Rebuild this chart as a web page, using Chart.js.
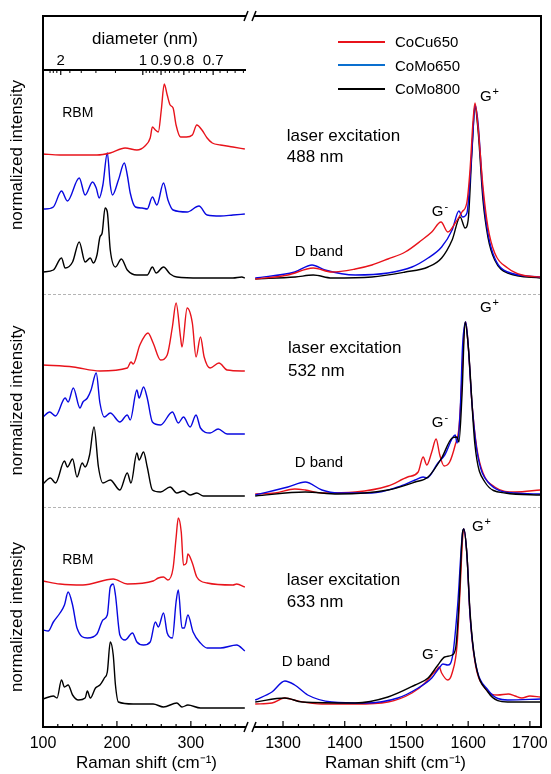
<!DOCTYPE html>
<html>
<head>
<meta charset="utf-8">
<script src="https://cdn.jsdelivr.net/npm/chart.js@4.4.0/dist/chart.umd.min.js"></script>
<style>
  body { margin: 0; background: #fff; }
  #wrap { position: relative; width: 551px; height: 774px; }
  #legend { position: absolute; left: 338px; top: 30px; font: 15px 'Liberation Sans', Arial, sans-serif; color: #000; }
  #legend div { height: 23.5px; display: flex; align-items: center; }
  #legend .sw { display: inline-block; width: 47px; height: 2px; margin-right: 10px; }
</style>
</head>
<body>
<div id="wrap">
  <canvas id="ramanChart" width="551" height="774"></canvas>
  <div id="legend"></div>
</div>
<script>
// samples and colours
const sampleNames = ['CoCu650', 'CoMo650', 'CoMo800'];
const lineColors = ['#e8131b', '#0808e0', '#000000'];
const legendColors = ['#e8131b', '#0a6fcf', '#000000'];

// tick values
const shiftTicksLeft = [100, 120, 140, 160, 180, 200, 220, 240, 260, 280, 300, 320, 340, 360];
const shiftTicksRight = [1275, 1300, 1325, 1350, 1375, 1400, 1425, 1450, 1475, 1500, 1525, 1550, 1575, 1600, 1625, 1650, 1675, 1700];
const diameterLabels = [2, 1, 0.9, 0.8, 0.7];
const diameterMinor = [2.3, 2.2, 2.1, 1.8, 1.6, 1.4, 1.2, 0.98, 0.96, 0.94, 0.92, 0.88, 0.86, 0.84, 0.82, 0.78, 0.76, 0.74, 0.72, 0.68, 0.66, 0.64, 0.62];

// 488 nm, RBM region [shift, intensity]
const rbm488CoCu650 = [[100,140],[123,139],[150,139],[173,139],[191,141],[211,146],[227,144],[238,148],[245,156],[248,167],[252,164],[256,162],[260,184],[264,210],[268,199],[272,189],[276,186],[280,169],[286,157],[294,157],[302,159],[308,169],[315,164],[322,156],[329,151],[340,149],[357,147],[373,145]];
const rbm488CoMo650 = [[100,85],[103,85],[114,87],[125,103],[133,93],[149,116],[157,99],[167,112],[172,106],[176,96],[181,109],[187,141],[191,109],[194,99],[202,114],[210,131],[214,119],[218,101],[225,87],[234,86],[241,85],[248,97],[254,89],[263,111],[269,94],[276,84],[295,82],[311,88],[322,79],[340,78],[357,79],[373,80]];
const rbm488CoMo800 = [[100,22],[114,24],[125,36],[130,26],[140,32],[149,52],[157,32],[164,36],[168,31],[173,39],[177,57],[180,61],[184,86],[187,82],[191,44],[198,27],[206,35],[214,24],[227,19],[241,19],[248,27],[253,21],[263,27],[272,20],[281,17],[313,16],[357,16],[369,17],[373,16]];
// 488 nm, D/G region
const g488CoCu650 = [[1255,15],[1308,19],[1349,26],[1379,22],[1417,25],[1444,29],[1470,35],[1498,42],[1525,54],[1541,62],[1556,72],[1567,62],[1579,71],[1590,82],[1598,92],[1603,124],[1608,174],[1611,191],[1616,167],[1624,107],[1632,67],[1643,41],[1664,26],[1687,19],[1717,17]];
const g488CoMo650 = [[1255,16],[1319,22],[1347,29],[1368,24],[1417,19],[1470,21],[1509,27],[1535,36],[1557,47],[1574,64],[1585,83],[1591,77],[1598,81],[1604,124],[1608,164],[1611,189],[1616,171],[1624,101],[1632,61],[1643,36],[1664,22],[1717,17]];
const g488CoMo800 = [[1255,15],[1320,17],[1349,19],[1379,16],[1444,17],[1498,22],[1535,27],[1557,36],[1574,54],[1587,77],[1595,66],[1600,74],[1606,141],[1611,187],[1616,164],[1624,94],[1632,57],[1643,34],[1664,21],[1717,16]];

// 532 nm
const rbm532CoCu650 = [[100,142],[141,140],[177,136],[214,139],[219,145],[222,143],[231,162],[242,174],[249,164],[259,147],[268,152],[275,180],[280,204],[286,170],[288,160],[295,199],[302,184],[307,150],[313,170],[318,150],[326,139],[338,144],[349,137],[373,136]];
const rbm532CoMo650 = [[100,90],[109,95],[117,91],[130,109],[134,105],[141,119],[150,99],[154,105],[160,109],[165,117],[172,134],[177,104],[183,90],[191,94],[204,85],[214,92],[218,87],[227,117],[230,109],[236,120],[241,109],[248,85],[259,82],[275,95],[283,84],[290,90],[299,80],[307,92],[313,79],[326,74],[337,78],[349,73],[373,73]];
const rbm532CoMo800 = [[100,23],[110,29],[117,24],[129,46],[133,40],[140,48],[146,30],[153,44],[157,40],[163,52],[169,80],[175,40],[181,24],[191,27],[204,17],[214,34],[219,24],[227,54],[230,47],[236,55],[241,40],[248,17],[259,15],[272,20],[281,14],[290,16],[299,12],[308,14],[317,11],[373,11]];
const g532CoCu650 = [[1255,13],[1287,14],[1319,18],[1336,17],[1363,14],[1417,15],[1470,21],[1502,30],[1519,35],[1527,50],[1533,42],[1541,55],[1548,68],[1554,52],[1561,41],[1570,45],[1579,62],[1585,79],[1590,129],[1593,172],[1596,185],[1600,162],[1606,105],[1614,59],[1624,34],[1643,20],[1676,15],[1717,17]];
const g532CoMo650 = [[1255,12],[1308,20],[1336,25],[1363,17],[1389,14],[1444,14],[1486,20],[1514,27],[1527,30],[1533,29],[1551,44],[1562,52],[1579,72],[1582,64],[1587,95],[1591,162],[1596,185],[1600,162],[1606,105],[1614,57],[1632,25],[1676,14],[1717,13]];
const g532CoMo800 = [[1255,11],[1336,15],[1389,13],[1470,17],[1514,25],[1535,30],[1557,49],[1574,69],[1582,70],[1585,65],[1590,112],[1595,185],[1600,162],[1611,62],[1627,25],[1660,14],[1717,12]];

// 633 nm
const rbm633CoCu650 = [[100,146],[123,143],[154,142],[195,148],[214,143],[249,146],[256,149],[263,150],[269,147],[276,159],[280,189],[283,209],[287,195],[290,162],[294,164],[296,173],[302,164],[308,150],[322,144],[357,142],[362,143],[373,140]];
const rbm633CoMo650 = [[100,97],[107,96],[114,105],[123,114],[129,122],[134,135],[140,122],[146,99],[160,89],[173,93],[181,107],[187,112],[191,140],[195,143],[198,132],[204,92],[211,87],[221,94],[227,85],[236,82],[245,85],[252,105],[256,100],[263,114],[268,94],[275,89],[280,125],[283,137],[288,99],[291,99],[296,112],[303,95],[313,84],[322,79],[340,79],[362,82],[373,76]];
const rbm633CoMo800 = [[100,28],[114,31],[119,29],[125,47],[129,40],[134,42],[140,32],[148,27],[157,29],[160,36],[164,29],[171,39],[177,42],[183,49],[187,55],[191,85],[195,72],[198,42],[202,25],[222,23],[249,23],[263,20],[281,24],[288,20],[296,22],[313,19],[373,19]];
const g633CoCu650 = [[1255,23],[1282,24],[1303,29],[1324,26],[1363,23],[1417,23],[1470,25],[1509,34],[1530,44],[1541,52],[1549,57],[1553,60],[1557,54],[1567,47],[1574,54],[1582,82],[1587,139],[1591,189],[1593,198],[1598,172],[1603,112],[1611,65],[1627,39],[1648,32],[1665,33],[1676,31],[1687,29],[1700,31],[1717,30]];
const g633CoMo650 = [[1255,27],[1282,35],[1303,46],[1319,42],[1340,32],[1379,25],[1433,24],[1486,29],[1519,39],[1541,49],[1553,59],[1559,63],[1567,62],[1575,72],[1583,122],[1591,195],[1593,198],[1598,172],[1603,112],[1611,67],[1632,37],[1664,27],[1717,28]];
const g633CoMo800 = [[1255,25],[1303,29],[1331,25],[1417,24],[1470,30],[1514,42],[1535,49],[1551,62],[1562,70],[1574,72],[1580,80],[1585,122],[1591,195],[1593,198],[1598,172],[1603,115],[1611,67],[1632,35],[1664,25],[1717,25]];

const FONT = "'Liberation Sans', Arial, sans-serif";

// text labels, placed in data units
const notes = [
    { text: 'RBM', x: 126, y: 181, xAxis: 'xL', yAxis: 'y1', size: 14 },
    { text: 'laser excitation', x: 1306, y: 158, xAxis: 'xR', yAxis: 'y1', size: 17 },
    { text: '488 nm', x: 1306, y: 137, xAxis: 'xR', yAxis: 'y1', size: 17 },
    { text: 'G', sup: '+', x: 1619, y: 197, xAxis: 'xR', yAxis: 'y1', size: 15 },
    { text: 'G', sup: '-', x: 1541, y: 82, xAxis: 'xR', yAxis: 'y1', size: 15 },
    { text: 'D band', x: 1319, y: 42, xAxis: 'xR', yAxis: 'y1', size: 15 },
    { text: 'laser excitation', x: 1308, y: 159, xAxis: 'xR', yAxis: 'y2', size: 17 },
    { text: '532 nm', x: 1308, y: 136, xAxis: 'xR', yAxis: 'y2', size: 17 },
    { text: 'G', sup: '+', x: 1619, y: 199, xAxis: 'xR', yAxis: 'y2', size: 15 },
    { text: 'G', sup: '-', x: 1541, y: 84, xAxis: 'xR', yAxis: 'y2', size: 15 },
    { text: 'D band', x: 1319, y: 44, xAxis: 'xR', yAxis: 'y2', size: 15 },
    { text: 'RBM', x: 126, y: 167, xAxis: 'xL', yAxis: 'y3', size: 14 },
    { text: 'laser excitation', x: 1306, y: 147, xAxis: 'xR', yAxis: 'y3', size: 17 },
    { text: '633 nm', x: 1306, y: 125, xAxis: 'xR', yAxis: 'y3', size: 17 },
    { text: 'G', sup: '+', x: 1606, y: 200, xAxis: 'xR', yAxis: 'y3', size: 15 },
    { text: 'G', sup: '-', x: 1525, y: 72, xAxis: 'xR', yAxis: 'y3', size: 15 },
    { text: 'D band', x: 1298, y: 65, xAxis: 'xR', yAxis: 'y3', size: 15 }
];

function diameterToShift(d) {
    return 222 / d + 13;
}

function series(pts, idx, xAxisID, yAxisID) {
    return {
        label: sampleNames[idx],
        data: pts.map(p => ({ x: p[0], y: p[1] })),
        borderColor: lineColors[idx],
        borderWidth: 1.4,
        pointRadius: 0,
        cubicInterpolationMode: 'monotone',
        fill: false,
        xAxisID: xAxisID,
        yAxisID: yAxisID
    };
}

const datasets = [
    series(rbm488CoCu650, 0, 'xL', 'y1'), series(rbm488CoMo650, 1, 'xL', 'y1'), series(rbm488CoMo800, 2, 'xL', 'y1'),
    series(g488CoCu650, 0, 'xR', 'y1'), series(g488CoMo650, 1, 'xR', 'y1'), series(g488CoMo800, 2, 'xR', 'y1'),
    series(rbm532CoCu650, 0, 'xL', 'y2'), series(rbm532CoMo650, 1, 'xL', 'y2'), series(rbm532CoMo800, 2, 'xL', 'y2'),
    series(g532CoMo800, 2, 'xR', 'y2'), series(g532CoMo650, 1, 'xR', 'y2'), series(g532CoCu650, 0, 'xR', 'y2'),
    series(rbm633CoCu650, 0, 'xL', 'y3'), series(rbm633CoMo650, 1, 'xL', 'y3'), series(rbm633CoMo800, 2, 'xL', 'y3'),
    series(g633CoMo800, 2, 'xR', 'y3'), series(g633CoMo650, 1, 'xR', 'y3'), series(g633CoCu650, 0, 'xR', 'y3')
];

function xAxis(min, max, weight, stackWeight, tickValues) {
    return {
        type: 'linear', position: 'bottom', stack: 'x', stackWeight: stackWeight, weight: weight,
        min: min, max: max,
        afterBuildTicks: s => { s.ticks = tickValues.map(v => ({ value: v })); },
        afterFit: s => { s.height = 47; s.paddingLeft = 0; s.paddingRight = 0; },
        grid: { display: false, drawTicks: false },
        border: { display: false },
        ticks: {
            autoSkip: false, maxRotation: 0, padding: 7, color: '#000', font: { size: 16 },
            callback: v => (v % 100 === 0 ? String(v) : '')
        },
        title: { display: true, text: 'Raman shift (cm\u207B\u00B9)', color: '#000', font: { size: 17 }, padding: { top: 0, bottom: 0 } }
    };
}

function yAxis(max, weight) {
    return {
        type: 'linear', position: 'left', stack: 'y', stackWeight: max, weight: weight,
        min: 0, max: max,
        afterFit: s => { s.width = 43; s.paddingTop = 0; s.paddingBottom = 0; },
        grid: { display: false, drawTicks: false },
        border: { display: false },
        ticks: { display: false },
        title: { display: true, text: 'normalized intensity', color: '#000', font: { size: 17 }, padding: { top: 7, bottom: 0 } }
    };
}

const framePlugin = {
    id: 'frame',
    beforeDatasetsDraw(chart) {
        const { ctx, chartArea: a, scales } = chart;
        ctx.save();
        ctx.strokeStyle = '#b4b4b4';
        ctx.lineWidth = 1;
        ctx.setLineDash([3, 2]);
        [scales.y1.bottom, scales.y2.bottom].forEach(y => {
            ctx.beginPath();
            ctx.moveTo(a.left, Math.round(y) + 0.5);
            ctx.lineTo(a.right, Math.round(y) + 0.5);
            ctx.stroke();
        });
        ctx.restore();
    },
    afterDraw(chart) {
        const { ctx, chartArea: a, scales } = chart;
        const xL = scales.xL, xR = scales.xR, y1 = scales.y1;
        ctx.save();
        ctx.strokeStyle = '#000';
        ctx.fillStyle = '#000';

        // bottom ticks, pointing inward
        ctx.lineWidth = 1.2;
        [[xL, shiftTicksLeft], [xR, shiftTicksRight]].forEach(([sc, vals]) => {
            vals.forEach(v => {
                const x = sc.getPixelForValue(v);
                const len = v % 100 === 0 ? 6 : 3;
                ctx.beginPath();
                ctx.moveTo(x, a.bottom);
                ctx.lineTo(x, a.bottom - len);
                ctx.stroke();
            });
        });

        // diameter axis on top of the RBM panel
        const yd = y1.getPixelForValue(224);
        const xEnd = xL.right - 4;
        ctx.lineWidth = 1.8;
        ctx.beginPath();
        ctx.moveTo(a.left, yd);
        ctx.lineTo(xEnd, yd);
        ctx.stroke();
        ctx.lineWidth = 1;
        diameterMinor.forEach(d => {
            const x = xL.getPixelForValue(diameterToShift(d));
            ctx.beginPath(); ctx.moveTo(x, yd); ctx.lineTo(x, yd + 3); ctx.stroke();
        });
        ctx.font = '15px ' + FONT;
        ctx.textAlign = 'center';
        ctx.textBaseline = 'middle';
        diameterLabels.forEach(d => {
            const x = xL.getPixelForValue(diameterToShift(d));
            ctx.lineWidth = 1.2;
            ctx.beginPath(); ctx.moveTo(x, yd); ctx.lineTo(x, yd + 5); ctx.stroke();
            ctx.fillText(String(d), x, y1.getPixelForValue(233));
        });
        ctx.font = '17px ' + FONT;
        ctx.fillText('diameter (nm)', xL.getPixelForValue(238), y1.getPixelForValue(255));

        // annotations
        notes.forEach(n => {
            const x = scales[n.xAxis].getPixelForValue(n.x);
            const y = scales[n.yAxis].getPixelForValue(n.y);
            ctx.font = n.size + 'px ' + FONT;
            ctx.textAlign = 'left';
            ctx.textBaseline = 'middle';
            ctx.fillText(n.text, x, y);
            if (n.sup) {
                const w = ctx.measureText(n.text).width;
                ctx.font = Math.round(n.size * 0.7) + 'px ' + FONT;
                ctx.fillText(n.sup, x + w + 1, y - n.size * 0.35);
            }
        });

        // outer frame
        ctx.lineWidth = 2;
        ctx.strokeRect(a.left, a.top, a.right - a.left, a.bottom - a.top);

        // axis break marks
        const bx = xL.right;
        [a.top, a.bottom].forEach(y => {
            ctx.fillStyle = '#fff';
            ctx.fillRect(bx - 4, y - 2, 8, 4);
            ctx.lineWidth = 1.5;
            [-4, 4].forEach(dx => {
                ctx.beginPath();
                ctx.moveTo(bx + dx - 2, y + 5);
                ctx.lineTo(bx + dx + 2, y - 5);
                ctx.stroke();
            });
        });
        ctx.restore();
    }
};

Chart.defaults.font.family = FONT;
Chart.defaults.color = '#000';

new Chart(document.getElementById('ramanChart').getContext('2d'), {
    type: 'line',
    data: { datasets: datasets },
    options: {
        responsive: false,
        animation: false,
        layout: { padding: { top: 16, right: 10, left: 0, bottom: 0 } },
        plugins: { legend: { display: false }, tooltip: { enabled: false } },
        scales: {
            xL: xAxis(100, 380, 0, 207, shiftTicksLeft),
            xR: xAxis(1246.5, 1718, 1, 291, shiftTicksRight),
            y1: yAxis(278, 3),
            y2: yAxis(213, 2),
            y3: yAxis(220, 1)
        }
    },
    plugins: [framePlugin]
});

// legend
const legendBox = document.getElementById('legend');
sampleNames.forEach((name, i) => {
    const row = document.createElement('div');
    const sw = document.createElement('span');
    sw.className = 'sw';
    sw.style.background = legendColors[i];
    row.appendChild(sw);
    row.appendChild(document.createTextNode(name));
    legendBox.appendChild(row);
});
</script>
</body>
</html>
